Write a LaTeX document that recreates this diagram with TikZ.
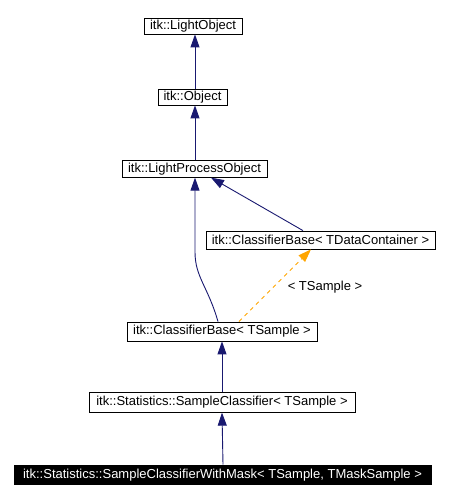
\documentclass[tikz,border=0pt]{standalone}
\usepackage{fontspec}
\setmainfont{Liberation Sans}
\usetikzlibrary{arrows.meta}
\definecolor{edgeblue}{HTML}{191970}
\definecolor{tmplorange}{HTML}{FFA500}
\begin{document}
\begin{tikzpicture}[x=1pt,y=-1pt,
  cls/.style={draw=black,line width=0.8pt,inner sep=0pt,fill=white,
    font=\fontsize{13}{15}\selectfont,anchor=center},
  inh/.style={draw=edgeblue,line width=0.9pt,-{Triangle[length=13pt,width=9pt]}},
  tmpl/.style={draw=tmplorange,line width=0.9pt,dash pattern=on 4pt off 4pt,
    -{Triangle[length=13pt,width=9pt,fill=tmplorange]}},
  lbl/.style={font=\fontsize{13}{15}\selectfont,inner sep=0pt}]
\useasboundingbox (0,0) rectangle (449,499);
\node[cls,minimum width=98pt,minimum height=16pt] (lo) at (193,26) {itk::LightObject};
\node[cls,minimum width=69pt,minimum height=16pt] (obj) at (192.5,97) {itk::Object};
\node[cls,minimum width=145pt,minimum height=16.5pt] (lpo) at (194.5,169) {itk::LightProcessObject};
\node[cls,minimum width=229pt,minimum height=18pt] (cbdc) at (320.5,240) {itk::ClassifierBase< TDataContainer >};
\node[cls,minimum width=190pt,minimum height=19pt] (cbts) at (222,331.5) {itk::ClassifierBase< TSample >};
\node[cls,minimum width=266pt,minimum height=19.5pt] (sc) at (222,402.5) {itk::Statistics::SampleClassifier< TSample >};
\node[cls,fill=black,text=white,minimum width=417pt,minimum height=19.5pt] (scwm) at (222.5,474.7) {itk::Statistics::SampleClassifierWithMask< TSample, TMaskSample >};
\coordinate (bend) at (195,252);
\node[lbl] (tl) at (325,287) {< TSample >};
\draw[inh] ([xshift=2.5pt]obj.north) -- ([xshift=2pt]lo.south);
\draw[inh] ([xshift=0.5pt]lpo.north) -- ([xshift=2.5pt]obj.south);
\draw[inh] ([xshift=-4pt]cbts.north) .. controls +(-10,-35) and +(0,25) .. (bend) -- ([xshift=0.5pt]lpo.south);
\draw[inh] ([xshift=-17.5pt]cbdc.north) -- ([xshift=16.5pt]lpo.south);
\draw[tmpl] ([xshift=17pt]cbts.north) -- ([xshift=-9.5pt]cbdc.south);
\draw[inh] (sc.north) -- (cbts.south);
\draw[inh] ([xshift=0.5pt]scwm.north) -- (sc.south);
\end{tikzpicture}
\end{document}
